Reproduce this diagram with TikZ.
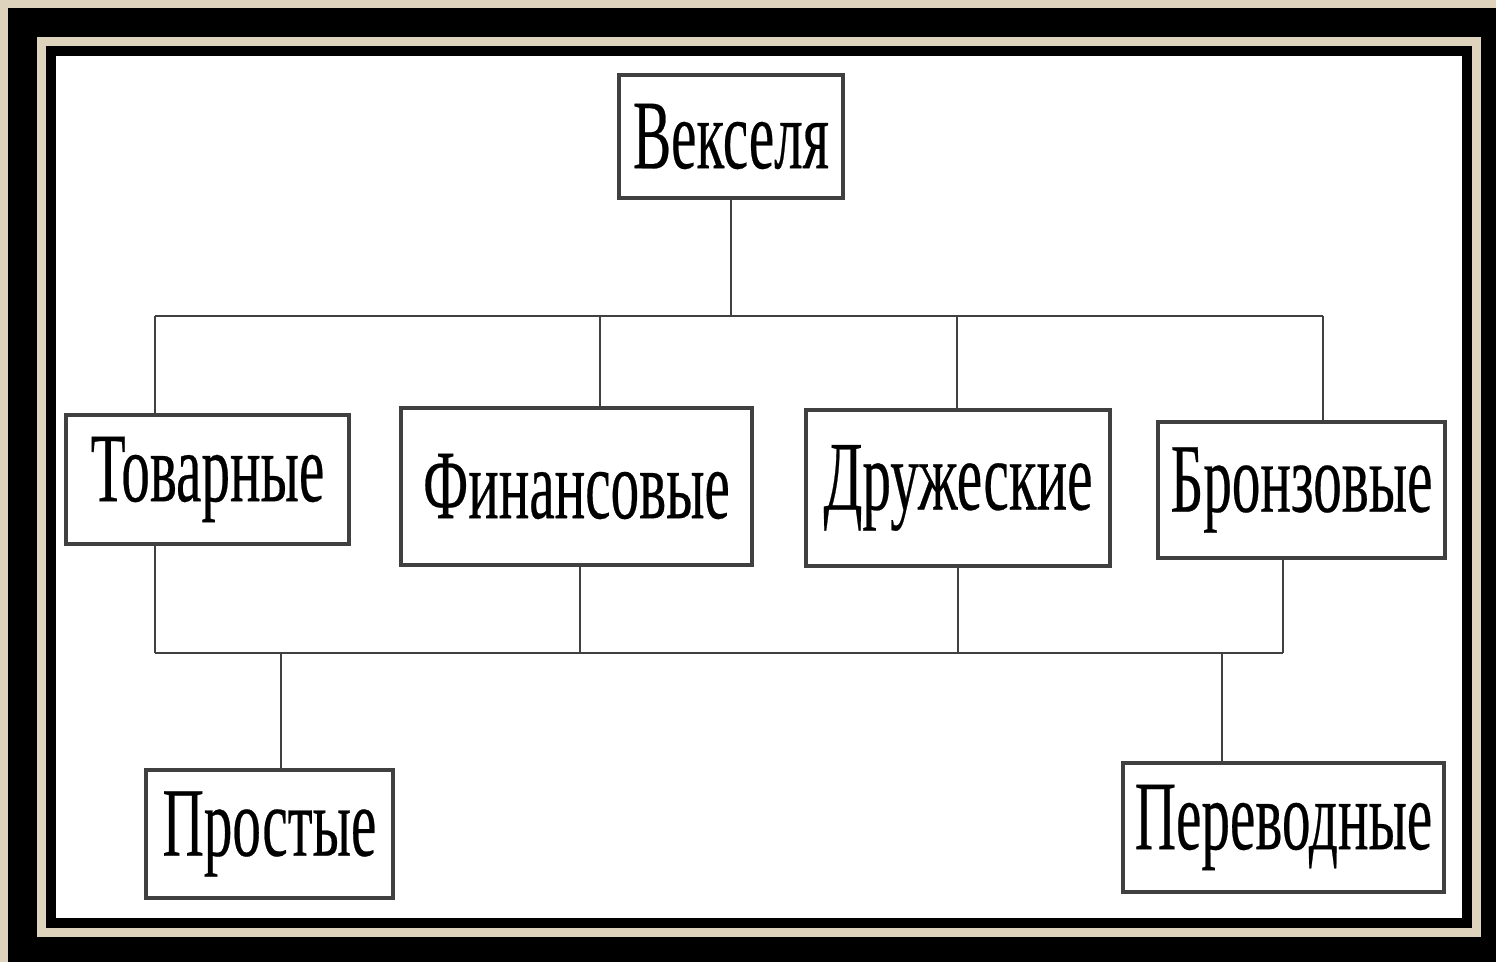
\documentclass[tikz,border=0pt]{standalone}
\usepackage{fontspec}
\setmainfont{Liberation Serif}[FakeStretch=0.58, FakeBold=0.25]
\usepackage{tikz}
\usetikzlibrary{positioning,calc}
\definecolor{framebeige}{RGB}{222,212,190}

\tikzset{
    kind/.style={draw=black!75, line width=1.1pt, fill=white, inner sep=0pt,
        font=\fontsize{28}{30}\selectfont},
    link/.style={draw=black!75, line width=0.6pt}
}

\begin{document}
\begin{tikzpicture}[x=0.01cm, y=-0.01cm]
    % Frame
    \fill[framebeige] (0,0) rectangle (1496,962);
    \fill[black] (8,8) rectangle (1496,962);
    \fill[framebeige] (37,37) rectangle (1481,937);
    \fill[black] (46,46) rectangle (1472,928);
    \fill[white] (56,56) rectangle (1462,918);

    % Boxes
    \node[kind, minimum width=2.24cm, minimum height=1.23cm] (veks) at (731,136.5) {Векселя};
    \node[kind, minimum width=2.83cm, minimum height=1.29cm] (tovar) at (207.5,479.5) {Товарные};
    \node[kind, minimum width=3.51cm, minimum height=1.57cm] (fin) at (576.5,486.5) {Финансовые};
    \node[kind, minimum width=3.04cm, minimum height=1.56cm] (druzh) at (958,488) {Дружеские};
    \node[kind, minimum width=2.87cm, minimum height=1.36cm] (bronz) at (1301.5,490) {Бронзовые};
    \node[kind, minimum width=2.47cm, minimum height=1.28cm] (prost) at (269.5,834) {Простые};
    \node[kind, minimum width=3.21cm, minimum height=1.29cm] (perev) at (1283.5,827.5) {Переводные};

    % Upper bus
    \coordinate (upL) at (155,316);
    \coordinate (upR) at (1323,316);
    \coordinate (upF) at (600,316);
    \coordinate (upD) at (957,316);
    \draw[link] (veks.south) -- (veks.south |- upL);
    \draw[link] (upL) -- (upR);
    \draw[link] (upL) -- (upL |- tovar.north);
    \draw[link] (upF) -- (upF |- fin.north);
    \draw[link] (upD) -- (upD |- druzh.north);
    \draw[link] (upR) -- (upR |- bronz.north);

    % Lower bus
    \coordinate (loL) at (155,653);
    \coordinate (loR) at (1283,653);
    \coordinate (loF) at (580,653);
    \coordinate (loD) at (958,653);
    \coordinate (loP) at (281,653);
    \coordinate (loV) at (1222,653);
    \draw[link] (loL) -- (loR);
    \draw[link] (loL) -- (loL |- tovar.south);
    \draw[link] (loF) -- (loF |- fin.south);
    \draw[link] (loD) -- (loD |- druzh.south);
    \draw[link] (loR) -- (loR |- bronz.south);
    \draw[link] (loP) -- (loP |- prost.north);
    \draw[link] (loV) -- (loV |- perev.north);
\end{tikzpicture}
\end{document}
